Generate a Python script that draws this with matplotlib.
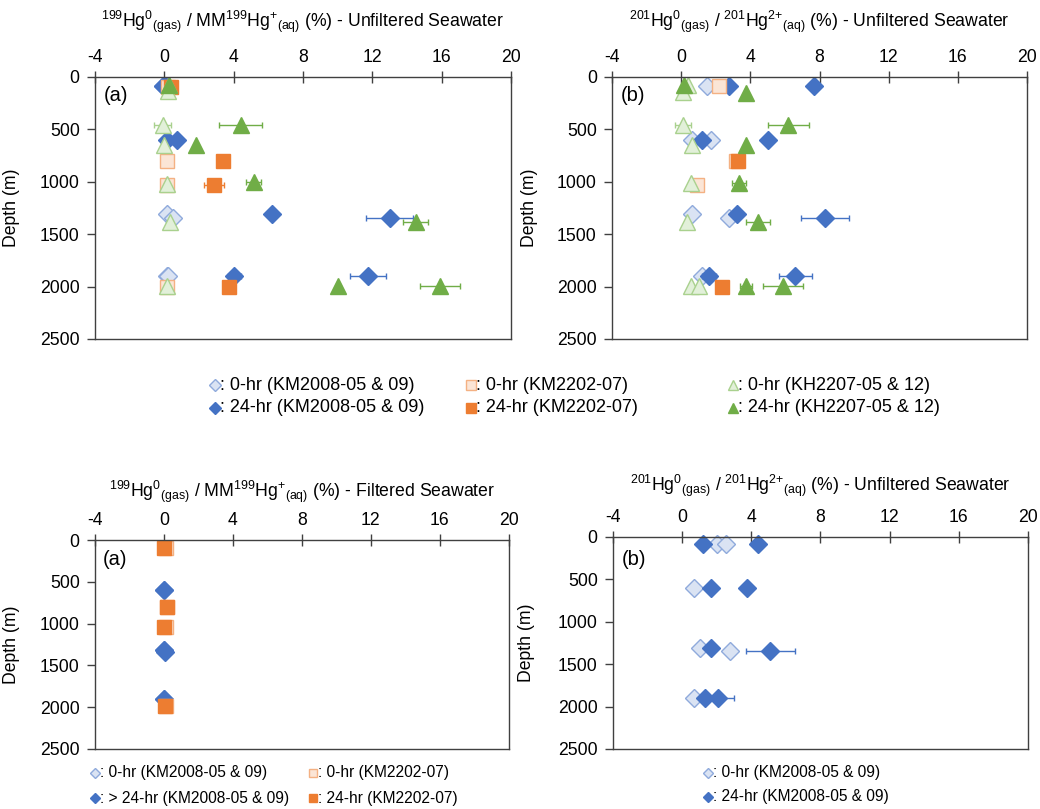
import matplotlib
matplotlib.use("Agg")
import matplotlib.pyplot as plt
from matplotlib.lines import Line2D

plt.rcParams['font.family'] = ['Liberation Sans', 'DejaVu Sans']
plt.rcParams['mathtext.default'] = 'regular'
plt.rcParams['axes.unicode_minus'] = False

# ---- data: depth (m), ratio (%), x error (%) ----
# (a) 199Hg0 / MM199Hg+ , unfiltered
a_d0_depth = [90, 90, 1310, 1345, 1900, 1900]
a_d0_val = [-0.05, 0.1, 0.15, 0.5, 0.15, 0.2]
a_d24_depth = [90, 90, 600, 600, 1310, 1345, 1900, 1900]
a_d24_val = [-0.1, 0.05, 0.15, 0.75, 6.2, 13.0, 4.05, 11.75]
a_d24_err = [0, 0, 0, 0, 0, 1.35, 0.4, 1.05]
a_s0_depth = [100, 800, 1030, 2000]
a_s0_val = [0.2, 0.15, 0.15, 0.15]
a_s24_depth = [100, 800, 1030, 2000]
a_s24_val = [0.4, 3.4, 2.85, 3.75]
a_s24_err = [0, 0, 0.58, 0]
a_t0_depth = [80, 130, 455, 648, 1020, 1380, 1990]
a_t0_val = [0.3, 0.2, -0.1, 0.0, 0.15, 0.35, 0.15]
a_t0_err = [0, 0, 0.5, 0, 0, 0, 0]
a_t24_depth = [80, 455, 645, 1000, 1380, 1990, 1990]
a_t24_val = [0.25, 4.4, 1.85, 5.15, 14.5, 10.0, 15.9]
a_t24_err = [0, 1.25, 0, 0.45, 0.7, 0, 1.15]

# (b) 201Hg0 / 201Hg2+ , unfiltered
b_d0_depth = [85, 600, 600, 1310, 1345, 1900]
b_d0_val = [1.5, 0.65, 1.75, 0.65, 2.75, 1.2]
b_d24_depth = [85, 85, 600, 600, 1310, 1345, 1900, 1900]
b_d24_val = [2.75, 7.7, 1.2, 5.0, 3.25, 8.3, 1.6, 6.6]
b_d24_err = [0, 0, 0, 0, 0, 1.4, 0.4, 0.95]
b_s0_depth = [85, 800, 1030]
b_s0_val = [2.2, 3.15, 0.9]
b_s24_depth = [800, 2000]
b_s24_val = [3.3, 2.35]
b_t0_depth = [80, 140, 455, 650, 1010, 1380, 1990, 1990]
b_t0_val = [0.4, 0.1, 0.1, 0.6, 0.55, 0.35, 0.55, 1.05]
b_t0_err = [0, 0, 0.45, 0, 0, 0, 0, 0]
b_t24_depth = [80, 150, 455, 645, 1010, 1380, 1990, 1990]
b_t24_val = [0.15, 3.75, 6.2, 3.75, 3.35, 4.45, 3.75, 5.9]
b_t24_err = [0, 0, 1.2, 0, 0.4, 0.7, 0.35, 1.15]

# (a) filtered
c_d0_depth = [600, 1310, 1900]
c_d0_val = [0.0, 0.0, 0.0]
c_d24_depth = [600, 1310, 1345, 1900]
c_d24_val = [0.0, 0.0, 0.05, 0.0]
c_s0_depth = [100, 800, 1040, 1990]
c_s0_val = [0.1, 0.15, 0.1, 0.1]
c_s24_depth = [100, 800, 1040, 1990]
c_s24_val = [0.0, 0.15, 0.0, 0.05]

# (b) lower panel
d_d0_depth = [85, 85, 600, 1310, 1345, 1900]
d_d0_val = [2.0, 2.55, 0.7, 1.05, 2.75, 0.7]
d_d24_depth = [85, 85, 600, 600, 1310, 1345, 1900, 1900]
d_d24_val = [1.2, 4.4, 1.65, 3.75, 1.65, 5.1, 1.3, 2.05]
d_d24_err = [0, 0, 0, 0, 0, 1.4, 0, 0.95]

x_ticks = [-4, 0, 4, 8, 12, 16, 20]
y_ticks = [0, 500, 1000, 1500, 2000, 2500]

# marker styles
D0 = dict(marker='D', ms=9.5, mfc='#DAE3F3', mec='#8FAADC')
D24 = dict(marker='D', ms=9.5, mfc='#4472C4', mec='#4472C4')
S0 = dict(marker='s', ms=9.5, mfc='#FBE5D6', mec='#F4B183')
S24 = dict(marker='s', ms=9.5, mfc='#ED7D31', mec='#ED7D31')
T0 = dict(marker='^', ms=11, mfc='#E2F0D9', mec='#A9D18E')
T24 = dict(marker='^', ms=11, mfc='#70AD47', mec='#70AD47')


def series(ax, val, depth, st, err=None):
    if err is not None:
        xs = [v for v, e in zip(val, err) if e > 0]
        ys = [d for d, e in zip(depth, err) if e > 0]
        es = [e for e in err if e > 0]
        if xs:
            ax.errorbar(xs, ys, xerr=es, fmt='none', ecolor=st['mec'],
                        elinewidth=1, capsize=2.5, capthick=1, clip_on=False)
    ax.plot(val, depth, ls='none', mew=1, clip_on=False, **st)


def setup(ax, title, label, title_off, lab_x, lab_y):
    ax.set_xlim(-4, 20)
    ax.set_ylim(2500, 0)
    ax.set_xticks(x_ticks)
    ax.set_yticks(y_ticks)
    ax.xaxis.tick_top()
    ax.tick_params(axis='x', direction='inout', length=8, width=1,
                   labelsize=12.7, pad=4, color='#404040')
    ax.tick_params(axis='y', direction='out', length=6, width=1,
                   labelsize=12.7, pad=5, color='#404040')
    for sp in ax.spines.values():
        sp.set_color('#404040')
        sp.set_linewidth(1)
    ax.set_ylabel('Depth (m)', fontsize=12.7)
    ax.yaxis.set_label_coords(lab_x, 0.5)
    ax.annotate(title, xy=(0.5, 1), xycoords='axes fraction',
                xytext=(0, title_off), textcoords='offset points',
                ha='center', va='center', fontsize=12.7)
    ax.text(0.02, lab_y, label, transform=ax.transAxes,
            ha='left', va='center', fontsize=14.5)


fig = plt.figure(figsize=(10.4, 8.09), dpi=100)

ax1 = fig.add_axes([0.0913, 0.5810, 0.4, 0.3239])
ax2 = fig.add_axes([0.5885, 0.5810, 0.399, 0.3239])
ax3 = fig.add_axes([0.0913, 0.0742, 0.398, 0.2583])
ax4 = fig.add_axes([0.5894, 0.0742, 0.399, 0.2621])

t199u = r'$^{199}$Hg$^{0}{}_{(gas)}$ / MM$^{199}$Hg$^{+}{}_{(aq)}$ (%) - Unfiltered Seawater'
t201u = r'$^{201}$Hg$^{0}{}_{(gas)}$ / $^{201}$Hg$^{2{+}}{}_{(aq)}$ (%) - Unfiltered Seawater'
t199f = r'$^{199}$Hg$^{0}{}_{(gas)}$ / MM$^{199}$Hg$^{+}{}_{(aq)}$ (%) - Filtered Seawater'

setup(ax1, t199u, '(a)', 40, -0.18, 0.93)
setup(ax2, t201u, '(b)', 40, -0.178, 0.93)
setup(ax3, t199f, '(a)', 35, -0.18, 0.905)
setup(ax4, t201u, '(b)', 37, -0.188, 0.892)

series(ax1, a_d0_val, a_d0_depth, D0)
series(ax1, a_d24_val, a_d24_depth, D24, a_d24_err)
series(ax1, a_s0_val, a_s0_depth, S0)
series(ax1, a_s24_val, a_s24_depth, S24, a_s24_err)
series(ax1, a_t0_val, a_t0_depth, T0, a_t0_err)
series(ax1, a_t24_val, a_t24_depth, T24, a_t24_err)

series(ax2, b_d0_val, b_d0_depth, D0)
series(ax2, b_d24_val, b_d24_depth, D24, b_d24_err)
series(ax2, b_s0_val, b_s0_depth, S0)
series(ax2, b_s24_val, b_s24_depth, S24)
series(ax2, b_t0_val, b_t0_depth, T0, b_t0_err)
series(ax2, b_t24_val, b_t24_depth, T24, b_t24_err)

series(ax3, c_d0_val, c_d0_depth, D0)
series(ax3, c_d24_val, c_d24_depth, D24)
series(ax3, c_s0_val, c_s0_depth, S0)
series(ax3, c_s24_val, c_s24_depth, S24)

series(ax4, d_d0_val, d_d0_depth, D0)
series(ax4, d_d24_val, d_d24_depth, D24, d_d24_err)


# legend entries: marker + ": text", placed in figure pixels
def key(x, y, st, text, ms, size):
    xf, yf = x / 1040, 1 - y / 809
    s = dict(st)
    s['ms'] = ms
    fig.add_artist(Line2D([xf], [yf], transform=fig.transFigure, ls='none', mew=1, **s))
    fig.text(xf + 5 / 1040, yf, ': ' + text, ha='left', va='center', fontsize=size)


key(215, 385, D0, '0-hr (KM2008-05 & 09)', 6.5, 13)
key(215, 408, D24, '24-hr (KM2008-05 & 09)', 6.5, 13)
key(471, 385, S0, '0-hr (KM2202-07)', 6.5, 13)
key(471, 408, S24, '24-hr (KM2202-07)', 6.5, 13)
key(733, 385, T0, '0-hr (KH2207-05 & 12)', 7.5, 13)
key(733, 408, T24, '24-hr (KH2207-05 & 12)', 7.5, 13)

key(95, 773, D0, '0-hr (KM2008-05 & 09)', 5.6, 11.2)
key(95, 798, D24, '> 24-hr (KM2008-05 & 09)', 5.6, 11.2)
key(313, 773, S0, '0-hr (KM2202-07)', 5.6, 11.2)
key(313, 798, S24, '24-hr (KM2202-07)', 5.6, 11.2)

key(708, 773, D0, '0-hr (KM2008-05 & 09)', 5.6, 11.2)
key(708, 797, D24, '24-hr (KM2008-05 & 09)', 5.6, 11.2)

fig.savefig('out.png', dpi=100)
